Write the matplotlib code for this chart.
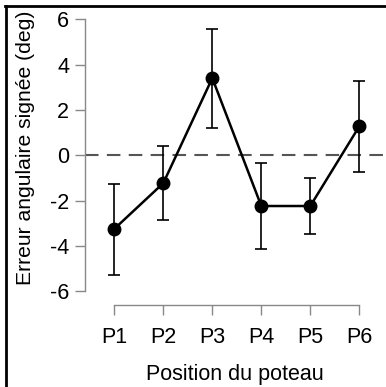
import numpy as np
import matplotlib.pyplot as plt
from matplotlib.lines import Line2D

plt.rcParams['font.family'] = ['Liberation Sans', 'DejaVu Sans']
plt.rcParams['axes.unicode_minus'] = False

positions = ["P1", "P2", "P3", "P4", "P5", "P6"]
mean_err = [-3.25, -1.23, 3.41, -2.24, -2.24, 1.28]
err_up = [-1.25, 0.41, 5.60, -0.34, -1.02, 3.29]
err_low = [-5.27, -2.86, 1.22, -4.16, -3.46, -0.74]

W, H = 386, 387
fig = plt.figure(figsize=(W / 100, H / 100), dpi=100)

# axes box in pixels: y spine at x=85, x spine at y=305
left, right, top, bottom = 85, 384, 8, 305
ax = fig.add_axes([left / W, 1 - bottom / H, (right - left) / W, (bottom - top) / H])

x = np.arange(1, len(positions) + 1)
m = np.array(mean_err)
yerr = np.vstack([m - np.array(err_low), np.array(err_up) - m])

ax.axhline(0, color="#555555", lw=1.5, ls=(0, (6.5, 4)), zorder=1)
ax.errorbar(x, m, yerr=yerr, fmt="none", ecolor="black", elinewidth=1.2,
            capsize=4.2, capthick=1.2, zorder=2)
ax.plot(x, m, color="black", lw=1.8, marker="o", ms=9, zorder=3)

px_per_x = 49.0
x1_px = 114.3
ax.set_xlim(1 + (left - x1_px) / px_per_x, 1 + (right - x1_px) / px_per_x)
px_per_y = 22.64
y0_px = 155.3
ax.set_ylim((y0_px - bottom) / px_per_y, (y0_px - top) / px_per_y)

ax.set_xticks(x)
ax.set_xticklabels(positions)
ax.set_yticks(np.arange(-6, 7, 2))

for s in ["top", "right"]:
    ax.spines[s].set_visible(False)
ax.spines["left"].set_bounds(-6, 6)
ax.spines["bottom"].set_bounds(1, 6)
for s in ["left", "bottom"]:
    ax.spines[s].set_color("#888888")
    ax.spines[s].set_linewidth(1.0)
ax.tick_params(axis="both", colors="#888888", length=7.5, width=1.0,
               labelcolor="black", labelsize=15.5)
ax.tick_params(axis="x", pad=8)
ax.tick_params(axis="y", pad=4)

ax.set_xlabel("Position du poteau", fontsize=15.5, labelpad=12)
ax.set_ylabel("Erreur angulaire signée (deg)", fontsize=15.2)
ax.yaxis.set_label_coords((35 - left) / (right - left), (bottom - 147.5) / (bottom - top))

# border on left and top edges
fig.add_artist(Line2D([5.5 / W, 5.5 / W], [0, 1 - 5.5 / H], transform=fig.transFigure,
                      color="black", lw=2.0))
fig.add_artist(Line2D([4.5 / W, 1], [1 - 5.5 / H, 1 - 5.5 / H], transform=fig.transFigure,
                      color="black", lw=2.0))

fig.savefig("out.png", dpi=100)
